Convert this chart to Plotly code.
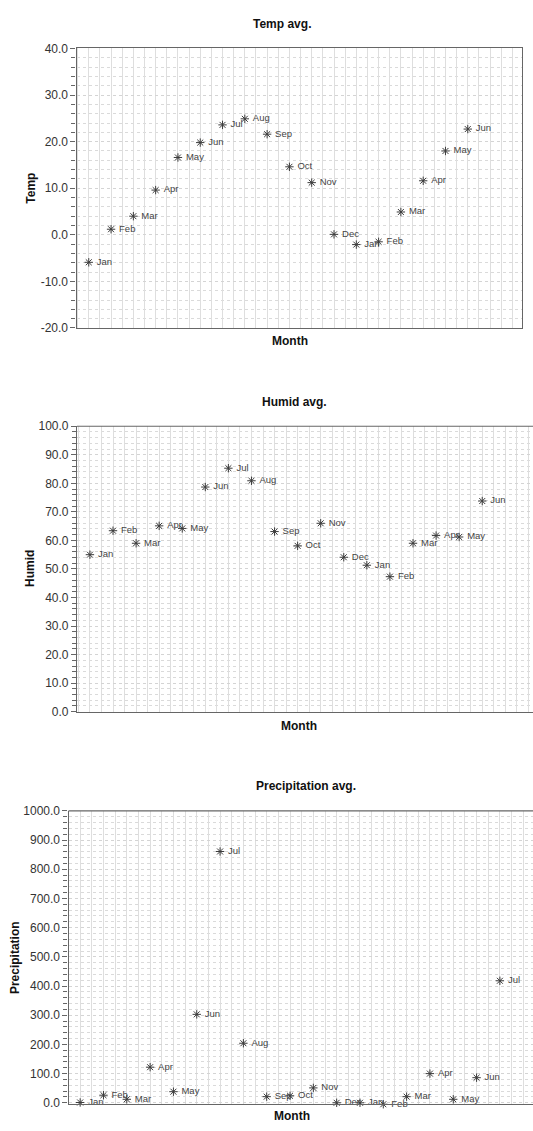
import plotly.graph_objects as go

# ---- data ----
months_a = ["Jan", "Feb", "Mar", "Apr", "May", "Jun", "Jul", "Aug", "Sep", "Oct", "Nov", "Dec",
            "Jan", "Feb", "Mar", "Apr", "May", "Jun"]
months_b = months_a + ["Jul"]
temp = [-5.9, 1.2, 4.0, 9.6, 16.6, 19.8, 23.6, 24.9, 21.6, 14.6, 11.2, 0.1,
        -2.1, -1.5, 4.9, 11.6, 18.0, 22.7]
humid = [55.0, 63.4, 59.0, 65.1, 64.2, 78.7, 85.3, 80.9, 63.1, 58.1, 66.0, 54.1,
         51.3, 47.3, 59.0, 61.7, 61.2, 73.8]
precip = [1, 26, 12, 122, 38, 303, 861, 204, 21, 24, 51, 0, 0, -5, 21, 100, 12, 86, 418]

temp_ticks = [-20, -10, 0, 10, 20, 30, 40]
temp_tick_labels = ["-20.0", "-10.0", "0.0", "10.0", "20.0", "30.0", "40.0"]
humid_ticks = [0, 10, 20, 30, 40, 50, 60, 70, 80, 90, 100]
humid_tick_labels = ["0.0", "10.0", "20.0", "30.0", "40.0", "50.0", "60.0", "70.0", "80.0", "90.0", "100.0"]
precip_ticks = [0, 100, 200, 300, 400, 500, 600, 700, 800, 900, 1000]
precip_tick_labels = ["0.0", "100.0", "200.0", "300.0", "400.0", "500.0", "600.0", "700.0",
                      "800.0", "900.0", "1000.0"]

titles = ["Temp avg.", "Humid avg.", "Precipitation avg."]
ytitles = ["Temp", "Humid", "Precipitation"]

W, H = 533, 1131
FONT = "Liberation Sans, Arial, sans-serif"
MK = "#3c3c3c"


def px_x(p):
    return p / W


def px_y(p):
    return 1 - p / H


fig = go.Figure()

series = [
    (temp, months_a, "x", "y"),
    (humid, months_a, "x2", "y2"),
    (precip, months_b, "x3", "y3"),
]
for vals, labels, xa, ya in series:
    fig.add_trace(go.Scatter(
        x=list(range(1, len(vals) + 1)), y=vals, text=["\u00a0" + m for m in labels],
        mode="markers+text", textposition="middle right",
        textfont=dict(family=FONT, size=9.5, color="#444444"),
        marker=dict(symbol="asterisk-open", size=7, color=MK, line=dict(color=MK, width=1)),
        xaxis=xa, yaxis=ya, cliponaxis=False, showlegend=False, hoverinfo="skip"))

# plot boxes in pixels: left, right, top, bottom
boxes = [
    (76.5, 522.4, 42.0, 325.0),
    (77.0, 533.0, 424.5, 713.5),
    (68.5, 533.0, 814.0, 1111.0),
]
xranges = [[0.45, 20.45], [0.44, 20.2], [0.5, 20.42]]
yranges = [[-20, 40], [0, 100], [-5, 1000]]
tickvals = [temp_ticks, humid_ticks, precip_ticks]
ticktexts = [temp_tick_labels, humid_tick_labels, precip_tick_labels]
minor_steps = [2, 2, 20]
mirrors = [True, False, False]

axis_common = dict(showline=True, linecolor="#666666", linewidth=1.2, zeroline=False)

for i in range(3):
    l, r, t, b = boxes[i]
    sx = "" if i == 0 else str(i + 1)
    xa = dict(domain=[px_x(l), px_x(r)], range=xranges[i], tick0=0.5, dtick=0.5,
              showticklabels=False, ticks="", showgrid=True, gridcolor="#dedede", gridwidth=1,
              mirror=mirrors[i], anchor="y" + sx, **axis_common)
    ya = dict(domain=[px_y(b), px_y(t)], range=yranges[i], tickmode="array",
              tickvals=tickvals[i], ticktext=ticktexts[i],
              ticks="outside", ticklen=5, tickcolor="#666666",
              tickfont=dict(family=FONT, size=12, color="#333333"),
              showgrid=True, gridcolor="#d4d4d4", griddash="dot", gridwidth=1,
              minor=dict(tick0=0, dtick=minor_steps[i], ticks="outside", ticklen=4,
                         tickcolor="#666666", showgrid=True, gridcolor="#dadada", griddash="dot"),
              mirror=mirrors[i], anchor="x" + sx, **axis_common)
    fig.layout["xaxis" + sx] = xa
    fig.layout["yaxis" + sx] = ya

# top border lines for the charts that run off the right edge
for i in (1, 2):
    l, r, t, b = boxes[i]
    fig.add_shape(type="line", xref="paper", yref="paper", x0=px_x(l), x1=1.0,
                  y0=px_y(t), y1=px_y(t), line=dict(color="#666666", width=1.2))

ann = []
title_pos = [(282, 17.5), (294, 400), (306, 788.5)]
month_pos = [(290, 338), (299, 728), (292, 1123)]
ytitle_pos = [(31, 184), (30, 569), (15, 963)]
for i in range(3):
    tx, ty = title_pos[i]
    ann.append(dict(text="<b>%s</b>" % titles[i], x=px_x(tx), y=px_y(ty), xref="paper", yref="paper",
                    showarrow=False, xanchor="center", yanchor="middle",
                    font=dict(family=FONT, size=12, color="#111111")))
    mx, my = month_pos[i]
    ann.append(dict(text="<b>Month</b>", x=px_x(mx), y=px_y(my), xref="paper", yref="paper",
                    showarrow=False, xanchor="center", yanchor="middle",
                    font=dict(family=FONT, size=12, color="#111111")))
    yx, yy = ytitle_pos[i]
    ann.append(dict(text="<b>%s</b>" % ytitles[i], x=px_x(yx), y=px_y(yy), xref="paper", yref="paper",
                    showarrow=False, xanchor="center", yanchor="middle", textangle=-90,
                    font=dict(family=FONT, size=12, color="#111111")))

fig.update_layout(width=W, height=H, margin=dict(l=0, r=0, t=0, b=0),
                  paper_bgcolor="white", plot_bgcolor="white", annotations=ann,
                  font=dict(family=FONT))

fig.write_html("out.html", config={"displayModeBar": False},
               post_script="document.body.style.margin='0';document.body.style.overflow='hidden';")
